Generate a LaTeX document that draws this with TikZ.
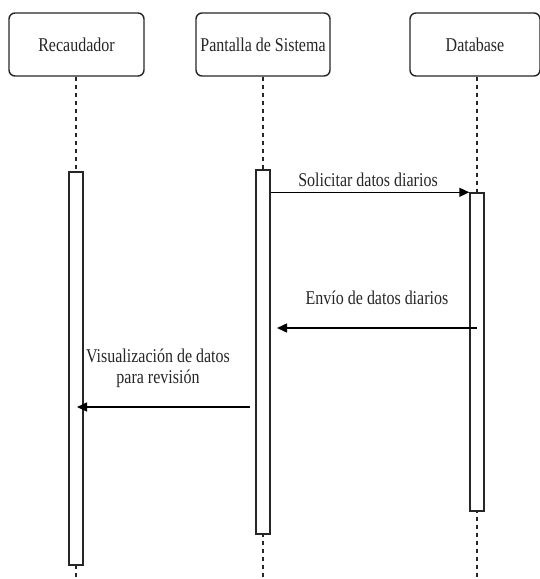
\documentclass[tikz,border=0pt]{standalone}
\usepackage{fontspec}
\setmainfont{Liberation Serif}[FakeStretch=0.82]
\usetikzlibrary{arrows.meta}

\tikzset{
  actor/.style={draw=black!85, line width=1.4pt, rounded corners=6pt,
    minimum height=63pt, inner sep=0pt, text=black!85,
    font=\fontsize{19.5}{21}\selectfont},
  lifeline/.style={draw=black!85, line width=1.2pt, dash pattern=on 4pt off 4pt},
  activation/.style={draw=black!85, fill=white, line width=1.4pt,
    minimum width=14pt, inner sep=0pt},
  msg/.style={draw=black, line width=1.5pt, -{Triangle[length=10pt,width=9pt]}},
  msglabel/.style={text=black!85, inner sep=0pt, align=center,
    font=\fontsize{19.5}{21}\selectfont}
}

\begin{document}
\begin{tikzpicture}[x=1pt,y=-1pt]
\useasboundingbox (0,0) rectangle (540,579);

% participants
\node[actor, minimum width=135pt] (rec) at (76.5,44.5) {Recaudador};
\node[actor, minimum width=134pt] (pan) at (263,44.5) {Pantalla de Sistema};
\node[actor, minimum width=130pt] (db)  at (475,44.5) {Database};

% lifeline ends at the bottom edge
\coordinate (recEnd) at (76,579);
\coordinate (panEnd) at (263,579);
\coordinate (dbEnd)  at (477,579);

\draw[lifeline] (rec.south -| recEnd) -- (recEnd);
\draw[lifeline] (pan.south -| panEnd) -- (panEnd);
\draw[lifeline] (db.south -| dbEnd) -- (dbEnd);

% activation bars
\node[activation, minimum height=393pt] (rbar) at (76,368.5) {};
\node[activation, minimum height=364pt] (pbar) at (263,352) {};
\node[activation, minimum height=318pt] (dbar) at (477,352) {};

% message 1: request
\draw[msg] (pbar.east |- dbar.north west) -- (dbar.north west);
\node[msglabel] (m1) at (368,180) {Solicitar datos diarios};

% message 2: reply
\coordinate (m2from) at (477,328);
\coordinate (m2to)   at (277,328);
\draw[msg] (m2from) -- (m2to);
\node[msglabel] (m2) at (377,298) {Envío de datos diarios};

% message 3: display
\coordinate (m3from) at (250,407);
\coordinate (m3to)   at (77,407);
\draw[msg] (m3from) -- (m3to);
\node[msglabel] (m3) at (158,368) {Visualización de datos\\para revisión};
\end{tikzpicture}
\end{document}
